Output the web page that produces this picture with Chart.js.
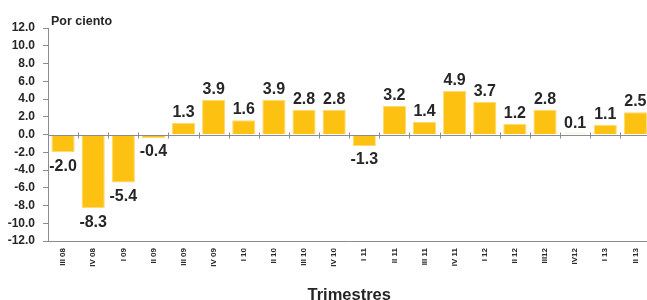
<!DOCTYPE html>
<html>
<head>
<meta charset="utf-8">
<script src="https://cdn.jsdelivr.net/npm/chart.js@4"></script>
<style>
    html, body { margin: 0; padding: 0; background: #fff; overflow: hidden; }
    #wrap { width: 652px; height: 300px; }
</style>
</head>
<body>
<div id="wrap"><canvas id="mainChart" width="652" height="300"></canvas></div>
<script>
// ===== 데이터 =====
const trimestres = ['III 08', 'IV 08', 'I 09', 'II 09', 'III 09', 'IV 09', 'I 10', 'II 10', 'III 10', 'IV 10',
    'I 11', 'II 11', 'III 11', 'IV 11', 'I 12', 'II 12', 'III12', 'IV12', 'I 13', 'II 13'];
const valores = [-2.0, -8.3, -5.4, -0.4, 1.3, 3.9, 1.6, 3.9, 2.8, 2.8,
    -1.3, 3.2, 1.4, 4.9, 3.7, 1.2, 2.8, 0.1, 1.1, 2.5];
const yMin = -12;
const yMax = 12;
const yStep = 2;

const textColor = '#262626';
const axisColor = '#8c8c8c';

Chart.defaults.font.family = '"Liberation Sans", Arial, sans-serif';
Chart.defaults.color = textColor;

// 0 라인 + 눈금, 값 라벨, 제목 그리기
const decorPlugin = {
    id: 'decor',
    afterDatasetsDraw(chart) {
        const ctx = chart.ctx;
        const area = chart.chartArea;
        const xs = chart.scales.x;
        const ys = chart.scales.y;
        const y0 = Math.round(ys.getPixelForValue(0)) + 0.5;

        ctx.save();
        ctx.strokeStyle = axisColor;
        ctx.lineWidth = 1;
        ctx.beginPath();
        ctx.moveTo(area.left, y0);
        ctx.lineTo(area.right, y0);
        for (let i = 1; i < trimestres.length; i++) {
            const bx = Math.round((xs.getPixelForValue(i - 1) + xs.getPixelForValue(i)) / 2) + 0.5;
            ctx.moveTo(bx, y0 - 3);
            ctx.lineTo(bx, y0 + 3);
        }
        ctx.stroke();

        // 막대 값 라벨
        ctx.fillStyle = textColor;
        ctx.font = 'bold 16px "Liberation Sans", Arial, sans-serif';
        ctx.textAlign = 'center';
        const meta = chart.getDatasetMeta(0);
        meta.data.forEach(function (bar, i) {
            const v = valores[i];
            if (v >= 0) {
                ctx.textBaseline = 'alphabetic';
                ctx.fillText(v.toFixed(1), bar.x, bar.y - 6);
            } else {
                ctx.textBaseline = 'top';
                ctx.fillText(v.toFixed(1), bar.x, bar.y + 6);
            }
        });

        // 제목들
        ctx.textBaseline = 'alphabetic';
        ctx.textAlign = 'left';
        ctx.font = 'bold 12.5px "Liberation Sans", Arial, sans-serif';
        ctx.fillText('Por ciento', area.left + 3, 25);

        ctx.textAlign = 'center';
        ctx.font = 'bold 16.5px "Liberation Sans", Arial, sans-serif';
        ctx.fillText('Trimestres', (area.left + area.right) / 2, 300);
        ctx.restore();
    }
};

new Chart(document.getElementById('mainChart'), {
    type: 'bar',
    data: {
        labels: trimestres,
        datasets: [{
            data: valores,
            backgroundColor: '#FDC111',
            borderColor: '#FEDA6E',
            borderWidth: 1,
            barPercentage: 0.77,
            categoryPercentage: 1.0
        }]
    },
    options: {
        responsive: false,
        animation: false,
        layout: { padding: { top: 28, right: 1, left: 0, bottom: 0 } },
        plugins: {
            legend: { display: false },
            tooltip: { enabled: false }
        },
        scales: {
            x: {
                offset: true,
                grid: { display: false, drawTicks: false },
                border: { display: true, color: axisColor },
                ticks: {
                    autoSkip: false,
                    minRotation: 90,
                    maxRotation: 90,
                    padding: 7,
                    color: textColor,
                    font: { size: 8, weight: 'bold' }
                },
                afterFit(scale) { scale.height = 59; }
            },
            y: {
                min: yMin,
                max: yMax,
                grid: { drawOnChartArea: false, drawTicks: true, tickLength: 5, color: axisColor },
                border: { display: true, color: axisColor },
                ticks: {
                    stepSize: yStep,
                    padding: 8,
                    color: textColor,
                    font: { size: 12, weight: 'bold' },
                    callback: function (v) { return Number(v).toFixed(1); }
                },
                afterFit(scale) { scale.width = 48; }
            }
        }
    },
    plugins: [decorPlugin]
});
</script>
</body>
</html>
